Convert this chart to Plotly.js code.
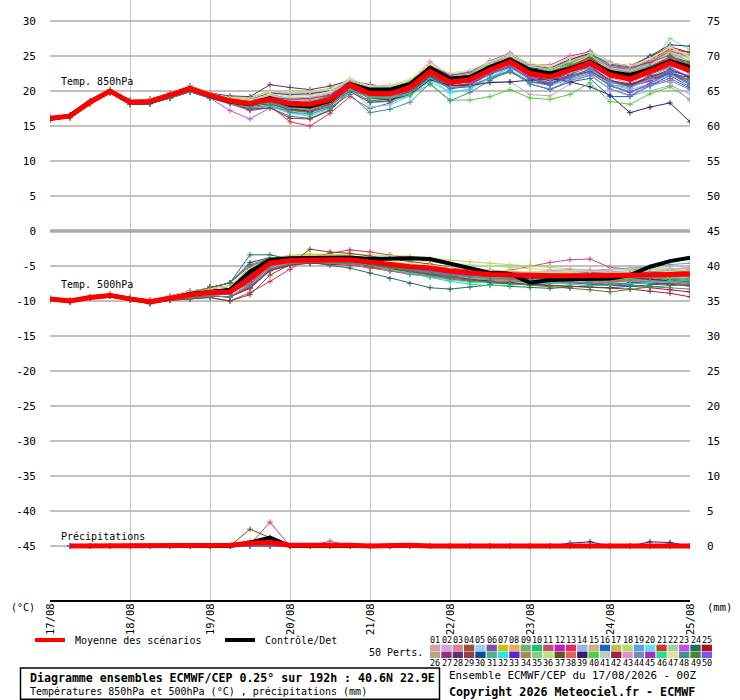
<!DOCTYPE html>
<html>
<head>
<meta charset="utf-8">
<script src="https://cdn.plot.ly/plotly-3.0.1.min.js"></script>
<style>
body { margin: 0; background: #fff; }
#chart { width: 740px; height: 700px; }
</style>
</head>
<body>
<div id="chart"></div>
<script>
// forecast steps (hours from 17/08 00Z) and day ticks
const steps = [0,6,12,18,24,30,36,42,48,54,60,66,72,78,84,90,96,102,108,114,120,126,132,138,144,150,156,162,168,174,180,186,192]
const dayTicks = [0,24,48,72,96,120,144,168,192]
const dayLabels = ['17/08','18/08','19/08','20/08','21/08','22/08','23/08','24/08','25/08']
const leftTicks = [-45,-40,-35,-30,-25,-20,-15,-10,-5,0,5,10,15,20,25,30]
const rightTicks = [0,5,10,15,20,25,30,35,40,45,50,55,60,65,70,75]

// mean / control
const t850Mean = [16.1,16.4,18.4,20.0,18.4,18.5,19.4,20.3,19.4,18.6,18.2,18.8,18.2,18.1,18.8,20.9,19.6,19.6,20.5,22.8,21.3,21.6,23.0,24.2,22.5,22.0,23.0,24.0,22.3,21.7,22.8,24.0,22.9]
const t850Ctrl = [16.0,16.5,18.5,20.0,18.4,18.4,19.4,20.4,19.3,18.5,18.1,19.0,18.0,17.8,18.6,21.0,20.2,20.2,21.0,23.3,21.8,22.0,23.4,24.5,23.0,22.5,23.2,24.2,22.7,22.3,23.1,24.3,23.4]
const t500Mean = [-9.7,-10.0,-9.5,-9.2,-9.7,-10.1,-9.6,-9.1,-8.8,-8.7,-6.7,-4.6,-4.2,-4.1,-4.1,-4.1,-4.5,-4.8,-5.1,-5.3,-5.7,-6.0,-6.2,-6.3,-6.4,-6.4,-6.4,-6.4,-6.4,-6.3,-6.3,-6.2,-6.1]
const t500Ctrl = [-9.7,-10.0,-9.5,-9.2,-9.7,-10.1,-9.6,-9.0,-8.7,-8.4,-5.8,-4.1,-3.9,-3.9,-3.9,-3.8,-4.0,-3.9,-3.9,-4.0,-4.6,-5.3,-6.0,-6.1,-7.4,-7.0,-6.9,-6.8,-6.8,-6.3,-5.1,-4.3,-3.8]
// precip (mm per 6h), from +6h
const precipMean = [0,0,0,0,0,0,0,0,0.1,0.4,0.5,0.1,0.1,0.2,0.1,0,0.1,0.1,0,0,0.1,0.1,0,0,0,0.1,0.1,0,0,0.1,0.1,0]
const precipCtrl = [0,0,0,0,0,0,0,0,0,0.5,1.2,0,0,0,0,0,0,0,0,0,0,0,0,0,0,0,0,0,0,0,0,0]

// first hours of the 850hPa members (they sit on top of each other)
const P1 = '16.3 16.6 18.6 20.2 18.6 18.7 19.6 20.5 19.6'
const P2 = '15.9 16.2 18.2 19.8 18.2 18.3 19.2 20.1 19.2'
const P3 = '16.1 16.4 18.4 20.0 18.4 18.5 19.4 20.3 19.4'
const P4 = '16.0 16.5 18.3 19.9 18.6 18.4 19.5 20.4 19.3'
const P5 = '16.2 16.3 18.5 20.1 18.3 18.6 19.3 20.2 19.5'
const P6 = '16.0 16.3 18.3 19.8 18.1 18.2 19.0 19.9 19.0'
const P7 = '16.1 16.5 18.5 20.1 18.7 18.8 19.7 20.7 19.7'

const t850Members = [
  P3 + ' 18.6 17.9 18.6 17.7 17.5 18.4 20.4 19.2 19.3 20.0 21.8 20.7 21.1 21.3 21.3 19.5 19.3 21.0 22.5 21.3 20.9 21.8 22.8 21.4',
  P1 + ' 18.9 18.6 19.3 18.8 18.8 19.3 21.2 20.1 20.2 21.0 23.2 21.9 22.3 23.5 24.6 23.3 22.9 23.7 24.8 23.5 23.1 24.1 25.5 24.7',
  P4 + ' 18.8 18.2 18.5 17.4 17.6 18.8 21.2 20.1 20.2 21.4 24.2 22.2 22.1 23.2 23.9 22.0 21.6 22.8 24.0 22.5 22.1 23.1 24.5 23.6',
  P5 + ' 18.4 17.8 18.3 17.5 17.2 18.2 20.5 19.0 18.9 20.0 22.4 21.0 21.4 23.0 24.4 22.8 22.5 23.4 24.3 22.3 21.4 22.3 23.6 22.7',
  P7 + ' 18.9 18.8 19.7 19.4 19.4 19.8 21.5 20.4 20.5 21.2 23.3 21.9 22.3 23.8 25.1 23.5 23.2 24.1 25.0 23.6 23.2 24.4 26.0 25.3',
  P6 + ' 18.2 17.2 17.6 16.4 16.1 17.3 20.1 18.6 18.8 19.9 22.3 20.6 21.0 22.6 23.9 22.0 21.2 22.0 23.1 20.8 19.9 20.8 21.8 20.4',
  P7 + ' 19.0 19.0 19.8 19.7 19.7 20.0 21.4 20.3 20.2 21.0 23.1 21.8 22.2 23.7 24.8 23.3 22.9 23.6 24.4 22.8 22.5 23.5 24.9 23.9',
  P1 + ' 18.6 18.4 19.2 18.5 18.6 19.4 21.3 19.8 19.9 21.0 23.5 21.8 22.0 23.3 24.7 23.1 22.7 23.9 25.1 23.7 22.9 23.8 24.8 24.1',
  P2 + ' 18.3 17.7 18.4 17.9 17.7 18.6 20.9 19.8 19.9 21.0 23.4 21.7 21.9 23.5 24.8 22.9 22.3 23.6 24.8 23.3 23.3 24.6 25.5 24.2',
  P6 + ' 18.7 18.0 18.2 17.2 16.9 18.0 20.4 18.9 18.7 19.5 21.6 20.5 21.0 22.3 23.7 21.9 21.1 21.7 22.5 20.9 20.5 21.8 22.6 21.2',
  P3 + ' 18.6 18.1 19.0 18.3 18.1 19.1 21.1 20.0 19.8 20.8 23.0 21.3 21.3 22.8 23.8 22.0 21.7 22.8 23.4 21.4 20.6 21.4 22.4 21.0',
  P7 + ' 18.8 18.7 19.6 18.8 19.0 19.5 21.3 20.2 20.1 21.2 23.6 22.2 22.3 24.0 25.3 23.4 23.1 24.4 25.5 23.9 23.0 24.3 25.7 24.9',
  P6 + ' 18.2 17.3 17.9 15.6 15.0 16.8 19.2 17.5 18.3 19.6 22.0 20.6 21.1 22.6 23.8 21.9 21.4 22.7 23.9 22.0 21.6 22.5 23.4 21.8',
  P4 + ' 18.6 18.4 18.8 18.0 18.0 19.0 20.9 19.4 19.2 20.2 22.3 20.6 20.7 22.4 23.4 21.5 20.8 21.6 22.4 20.2 19.3 20.0 20.8 19.6',
  P5 + ' 18.8 18.5 18.9 18.6 18.4 18.9 20.7 19.6 19.7 20.3 22.5 21.2 21.6 22.8 24.1 22.7 22.4 23.3 24.6 22.7 21.9 23.3 24.7 23.5',
  P2 + ' 18.5 17.9 18.6 18.2 18.3 18.7 20.6 19.1 19.2 19.9 22.0 20.3 20.7 21.9 22.9 21.0 20.2 21.3 21.8 19.2 19.2 20.8 22.2 20.6',
  P1 + ' 18.9 18.7 19.4 19.0 19.1 19.7 21.6 20.2 20.1 20.9 23.4 22.0 22.5 23.8 24.9 23.4 23.0 24.2 25.0 23.1 22.7 23.9 25.3 24.0',
  P7 + ' 19.1 19.1 20.0 19.7 19.9 20.4 21.7 20.6 20.8 21.5 23.7 22.4 22.8 24.0 25.0 23.6 23.3 24.0 25.2 23.7 23.3 24.3 25.8 25.0',
  P3 + ' 18.4 18.1 18.5 17.7 17.8 18.7 20.9 19.8 19.7 20.5 23.0 21.6 21.7 23.0 24.0 22.0 21.2 22.4 23.6 21.6 20.7 22.0 23.4 22.0',
  P6 + ' 18.3 17.5 17.9 16.9 16.6 17.8 20.3 17.7 18.0 19.3 21.9 19.7 20.2 22.0 23.5 21.6 20.9 22.2 23.5 21.4 20.4 21.8 22.8 21.3',
  P4 + ' 18.6 18.3 18.7 18.4 18.5 19.1 21.0 19.9 19.8 20.9 23.3 21.6 21.8 23.4 24.5 22.7 22.4 23.6 24.9 23.5 23.0 24.4 26.0 25.5',
  P1 + ' 18.8 18.6 19.1 18.7 18.7 19.2 21.1 19.9 20.1 20.9 23.1 21.8 22.0 23.6 24.9 23.4 23.2 24.6 25.8 24.2 23.0 23.7 27.5 25.9',
  P6 + ' 17.2 16.0 17.6 17.3 17.2 18.0 20.2 20.3 20.4 21.2 23.5 22.3 22.5 23.8 25.1 23.6 23.2 24.3 25.2 23.4 22.9 23.6 24.6 23.8',
  P5 + ' 18.4 17.8 18.2 17.4 17.4 18.3 20.6 19.0 18.8 19.6 22.1 20.5 20.6 21.8 22.7 21.3 21.0 22.3 23.7 22.5 22.1 23.4 24.3 23.0',
  P7 + ' 18.7 18.5 19.3 18.4 18.4 19.3 21.2 20.1 20.0 21.1 23.3 22.0 22.5 23.8 25.2 23.7 23.3 24.5 25.4 24.0 23.6 24.9 26.3 25.5',
  P3 + ' 18.5 18.2 19.1 18.7 18.4 18.9 20.9 19.4 19.3 20.4 22.8 21.1 21.2 22.7 23.7 21.8 21.4 22.6 23.8 21.9 21.1 22.5 23.9 22.5',
  P4 + ' 18.8 18.3 18.6 17.8 17.5 18.5 20.8 19.7 19.6 20.7 23.2 21.5 21.6 23.3 24.7 22.8 22.1 22.8 23.5 21.5 20.7 21.5 22.5 21.5',
  P7 + ' 19.3 19.2 20.9 20.5 20.2 20.7 21.5 20.9 20.6 21.2 23.4 22.0 22.0 23.2 24.3 22.4 21.8 22.6 23.3 21.4 20.8 21.9 23.1 22.0',
  P2 + ' 18.6 17.9 18.3 17.3 17.0 17.8 20.1 19.1 19.3 20.3 22.8 21.5 21.7 22.9 24.2 22.2 21.5 22.2 23.0 21.2 20.8 22.2 22.6 21.1',
  P5 + ' 18.5 18.4 19.2 18.5 18.2 19.2 21.1 19.9 20.1 20.9 23.4 22.1 22.3 23.9 25.2 23.3 23.1 24.0 25.3 23.8 23.4 25.0 26.6 26.4',
  P3 + ' 18.4 17.8 18.5 18.1 17.9 18.4 20.7 19.5 19.6 20.2 22.3 20.9 21.4 22.9 24.3 22.8 22.6 24.0 25.2 23.6 22.8 23.5 24.3 22.9',
  P6 + ' 18.3 17.6 17.8 16.8 16.4 17.5 20.0 18.3 18.5 19.3 21.4 19.8 20.3 21.9 23.3 21.8 21.1 21.8 23.0 21.0 20.2 21.0 22.4 21.0',
  P7 + ' 18.9 18.8 19.7 19.5 19.6 20.0 21.3 20.2 20.3 21.0 23.2 21.5 21.9 23.1 24.1 22.2 21.5 22.6 23.4 21.5 21.0 21.9 22.9 22.1',
  P1 + ' 18.6 18.0 18.7 17.8 17.5 18.5 20.8 19.7 19.8 20.5 22.6 21.3 21.8 23.1 24.1 22.5 22.2 23.3 24.5 23.0 22.3 23.2 24.2 23.4',
  P4 + ' 18.8 18.5 19.3 18.9 18.6 19.1 21.3 20.2 20.4 21.1 23.3 22.0 22.4 24.0 25.4 23.6 22.9 24.2 25.1 23.2 22.9 24.2 25.6 24.2',
  P7 + ' 19.0 18.9 19.9 19.8 19.9 20.2 21.5 20.5 20.6 21.3 23.4 22.1 22.6 24.1 25.1 23.7 23.4 24.7 25.6 23.7 23.3 24.6 26.2 24.8',
  P6 + ' 18.3 17.4 17.6 16.1 16.0 17.2 19.9 18.4 18.6 19.7 22.2 20.9 21.4 23.0 24.4 22.9 22.3 23.5 24.7 22.8 22.0 23.4 24.9 24.1',
  P5 + ' 18.7 18.1 18.4 17.6 17.2 18.1 20.5 19.0 19.1 20.2 22.7 21.4 21.9 23.2 24.2 22.6 22.3 23.5 24.8 23.3 22.6 24.1 25.7 25.1',
  P2 + ' 18.5 17.9 18.6 17.8 17.8 18.6 20.5 19.0 18.8 19.5 21.6 20.8 20.8 21.2 21.3 21.5 21.8 21.3 20.6 19.4 16.9 17.7 18.3 15.6',
  P3 + ' 18.4 18.0 18.5 17.9 17.8 18.4 20.4 19.0 19.0 19.5 20.9 18.7 18.7 19.2 20.2 19.0 18.8 19.5 21.2 18.5 18.1 19.6 20.6 18.8',
  P1 + ' 18.8 18.6 19.4 18.7 18.8 19.7 21.6 20.5 20.7 21.3 23.4 22.1 22.3 23.9 25.0 23.5 23.1 24.3 25.1 23.3 22.9 23.8 25.5 24.6',
  P6 + ' 18.5 17.9 18.2 17.4 17.1 18.1 20.4 19.2 19.4 20.1 22.2 20.8 20.9 22.5 23.6 21.7 21.0 22.1 22.8 21.3 20.9 21.7 22.5 21.9',
  P4 + ' 18.7 18.4 18.8 18.0 17.7 18.6 20.9 19.8 20.0 20.8 23.3 21.7 21.8 23.0 24.5 22.6 21.8 22.6 23.3 21.3 20.4 21.7 21.2 18.6',
  P2 + ' 18.4 17.7 18.5 17.6 17.3 17.9 20.2 19.1 19.0 19.7 21.8 20.5 20.7 21.9 22.9 21.0 20.3 21.5 22.2 20.3 19.4 20.7 21.5 20.2',
  P7 + ' 18.8 18.7 19.1 18.8 18.9 19.4 21.2 20.1 20.0 21.1 23.6 22.2 22.7 24.3 25.4 23.8 23.7 25.0 25.6 23.7 23.3 24.1 25.1 23.7',
  P5 + ' 18.6 18.0 18.3 17.5 17.6 18.5 20.7 19.2 19.3 20.4 22.9 21.2 21.3 22.9 24.2 22.3 21.6 22.8 24.0 22.5 22.2 23.1 24.0 22.4',
  P7 + ' 18.9 18.7 19.6 19.2 19.3 19.9 21.8 20.7 20.9 21.7 23.8 22.6 23.0 24.2 25.3 23.9 23.6 24.8 25.5 24.0 23.6 24.6 26.3 24.9',
  P6 + ' 18.2 17.6 18.0 17.0 16.7 17.6 19.5 16.9 17.4 18.4 21.1 18.6 19.8 21.5 23.0 21.3 20.8 22.0 23.2 21.4 20.6 21.8 22.9 21.5',
  P3 + ' 18.5 18.0 18.4 17.6 17.7 18.6 20.9 19.8 19.7 20.8 23.0 21.3 21.8 23.4 24.5 23.0 22.7 23.6 24.8 22.8 22.0 23.4 24.9 23.6',
  P4 + ' 18.7 18.2 18.5 17.7 17.8 18.8 21.1 19.6 19.4 20.4 22.9 21.1 21.2 22.4 23.4 21.9 21.1 21.9 22.7 20.7 19.8 21.1 22.6 20.9'
]

// first hours of the 500hPa members
const Q1 = '-9.7 -10.0 -9.5 -9.2 -9.7 -10.1 -9.6 -9.1 -8.8 -8.7'
const Q2 = '-9.6 -9.9 -9.4 -9.0 -9.5 -9.9 -9.3 -8.6 -8.2 -7.9'
const Q3 = '-9.8 -10.1 -9.6 -9.3 -9.8 -10.3 -9.8 -9.5 -9.3 -9.4'
const Q4 = '-9.7 -10.0 -9.4 -9.1 -9.6 -9.9 -9.4 -8.9 -8.5 -8.3'
const Q5 = '-9.6 -10.0 -9.6 -9.3 -9.7 -10.2 -9.7 -9.3 -9.1 -9.0'
const Q6 = '-9.8 -10.0 -9.5 -9.2 -9.6 -10.0 -9.5 -8.8 -8.0 -7.4'
const Q7 = '-9.7 -9.9 -9.5 -9.2 -9.8 -10.4 -9.9 -9.7 -9.5 -10.0'

const t500Members = [
  Q1 + ' -6.5 -4.4 -4.0 -3.9 -4.0 -4.2 -4.8 -5.2 -5.6 -5.8 -6.3 -6.5 -6.6 -6.8 -6.9 -7.0 -6.8 -6.6 -6.7 -6.5 -6.4 -6.6 -6.8',
  Q4 + ' -6.0 -4.2 -3.9 -3.8 -3.7 -3.9 -4.1 -4.4 -4.7 -4.9 -5.2 -5.6 -5.9 -6.1 -6.0 -5.8 -5.9 -6.1 -6.2 -5.9 -5.6 -5.4 -5.2',
  Q2 + ' -5.2 -4.0 -3.6 -3.7 -3.9 -4.0 -4.6 -5.0 -5.5 -5.9 -6.4 -6.9 -7.1 -7.0 -6.8 -6.6 -6.5 -6.7 -6.9 -7.1 -7.3 -7.0 -6.8',
  Q5 + ' -7.4 -5.0 -4.4 -4.3 -4.2 -4.0 -4.3 -4.5 -4.8 -5.0 -5.4 -5.8 -6.0 -6.2 -6.5 -6.7 -6.9 -7.0 -7.2 -7.0 -6.8 -7.1 -7.4',
  Q1 + ' -6.8 -4.5 -4.1 -4.0 -4.2 -4.4 -4.6 -4.7 -4.9 -5.1 -5.5 -5.9 -6.1 -6.0 -5.8 -5.7 -5.9 -6.0 -5.8 -5.6 -5.5 -5.7 -5.9',
  Q3 + ' -8.0 -5.5 -4.6 -4.4 -4.3 -4.5 -5.0 -5.4 -5.9 -6.3 -6.8 -7.0 -7.2 -7.3 -7.1 -6.9 -7.0 -7.2 -7.4 -7.1 -6.9 -7.2 -7.5',
  Q2 + ' -5.6 -3.9 -3.5 -3.3 -3.4 -3.6 -3.9 -4.3 -4.8 -5.2 -5.6 -5.9 -6.0 -5.8 -5.9 -6.1 -6.3 -6.2 -6.0 -5.8 -5.9 -6.1 -5.8',
  Q4 + ' -6.3 -4.3 -4.0 -3.9 -4.1 -4.3 -4.7 -5.1 -5.3 -5.6 -5.9 -6.1 -6.4 -6.6 -6.5 -6.3 -6.2 -6.4 -6.6 -6.8 -6.6 -6.3 -6.5',
  Q5 + ' -7.0 -4.8 -4.3 -4.2 -4.4 -4.6 -5.1 -5.6 -6.0 -6.4 -6.9 -7.2 -7.4 -7.5 -7.3 -7.1 -7.3 -7.6 -7.8 -7.5 -7.3 -7.6 -7.9',
  Q1 + ' -6.6 -4.6 -4.2 -4.0 -3.9 -4.0 -4.4 -4.6 -4.9 -5.0 -5.3 -5.5 -5.6 -5.8 -6.0 -6.2 -6.1 -5.9 -6.0 -6.2 -6.4 -6.3 -6.1',
  Q6 + ' -4.8 -3.9 -3.7 -3.6 -3.8 -4.0 -4.3 -4.7 -5.0 -5.2 -5.5 -5.7 -5.8 -5.6 -5.0 -4.5 -4.1 -4.0 -5.2 -5.5 -5.7 -5.9 -6.2',
  Q3 + ' -7.6 -5.2 -4.5 -4.3 -4.5 -4.7 -5.2 -5.7 -6.2 -6.5 -6.9 -7.1 -7.0 -6.8 -6.6 -6.5 -6.7 -6.9 -6.8 -6.6 -6.7 -6.9 -7.1',
  Q7 + ' -8.8 -7.2 -5.5 -3.7 -3.2 -2.7 -3.0 -3.4 -3.9 -4.3 -4.8 -5.3 -5.6 -5.8 -6.0 -6.2 -6.1 -6.3 -6.5 -6.4 -6.2 -6.0 -5.8',
  Q1 + ' -6.4 -4.4 -4.1 -4.1 -4.3 -4.5 -4.9 -5.3 -5.7 -6.0 -6.4 -6.7 -6.9 -7.0 -7.1 -7.2 -7.0 -6.8 -6.9 -7.1 -7.3 -7.5 -7.7',
  Q4 + ' -6.1 -4.1 -3.8 -3.9 -4.0 -4.2 -4.5 -4.9 -5.2 -5.5 -5.9 -6.3 -6.5 -6.7 -6.9 -6.8 -6.6 -6.4 -6.5 -6.7 -6.9 -6.6 -6.4',
  Q2 + ' -5.5 -4.2 -3.9 -3.8 -4.0 -4.3 -4.8 -5.3 -5.8 -6.3 -6.8 -7.2 -7.4 -7.6 -7.7 -7.5 -7.4 -7.6 -7.8 -7.6 -7.3 -7.1 -7.3',
  Q5 + ' -7.2 -4.9 -4.3 -4.1 -4.0 -4.1 -4.4 -4.7 -5.0 -5.3 -5.6 -5.8 -6.0 -6.1 -6.0 -5.9 -6.1 -6.3 -6.2 -6.0 -5.9 -6.2 -6.5',
  Q2 + ' -5.8 -4.0 -3.6 -3.5 -3.4 -3.3 -3.4 -3.5 -3.6 -3.9 -4.2 -4.4 -4.6 -4.8 -5.0 -5.2 -5.4 -5.6 -5.5 -5.4 -5.2 -5.3 -5.5',
  Q1 + ' -6.7 -4.5 -4.2 -4.2 -4.3 -4.2 -4.6 -5.0 -5.4 -5.7 -6.1 -6.4 -6.6 -6.5 -6.3 -6.2 -6.0 -5.7 -5.5 -5.3 -5.1 -4.8 -4.6',
  Q3 + ' -7.8 -5.3 -4.6 -4.5 -4.6 -4.8 -5.0 -5.3 -5.6 -5.9 -6.2 -6.5 -6.7 -6.9 -7.0 -6.9 -6.7 -6.6 -6.8 -7.0 -6.9 -6.7 -6.9',
  Q4 + ' -6.2 -4.3 -4.0 -3.9 -3.8 -3.9 -4.2 -4.5 -4.9 -5.2 -5.7 -6.0 -6.3 -6.4 -6.2 -6.1 -6.3 -6.5 -6.4 -6.2 -6.0 -5.8 -5.6',
  Q5 + ' -7.1 -4.8 -4.2 -4.0 -4.1 -4.3 -4.8 -5.2 -5.6 -5.9 -6.3 -6.6 -6.8 -6.9 -6.7 -6.5 -6.6 -6.8 -6.9 -6.7 -6.5 -6.3 -6.4',
  Q1 + ' -6.6 -4.6 -4.3 -4.2 -4.1 -4.2 -4.7 -5.1 -5.5 -5.8 -6.2 -6.5 -6.7 -6.8 -6.6 -6.4 -6.5 -6.7 -6.9 -7.0 -6.8 -6.6 -6.8',
  Q6 + ' -3.4 -3.4 -4.0 -4.5 -4.9 -5.3 -6.0 -6.8 -7.5 -8.1 -8.3 -8.0 -7.7 -7.9 -8.1 -8.2 -8.0 -7.8 -7.6 -7.4 -7.2 -7.0 -7.2',
  Q3 + ' -8.2 -5.6 -4.8 -4.6 -4.7 -4.9 -5.2 -5.4 -5.7 -5.9 -6.2 -6.4 -6.5 -6.6 -6.8 -7.0 -7.2 -7.4 -7.6 -7.9 -8.1 -8.4 -8.7',
  Q4 + ' -6.4 -4.4 -4.1 -4.0 -4.2 -4.4 -4.8 -5.1 -5.4 -5.6 -5.9 -6.1 -6.2 -6.3 -6.4 -6.5 -6.6 -6.5 -6.3 -6.2 -6.4 -6.6 -6.4',
  Q2 + ' -5.9 -4.1 -3.8 -3.7 -3.8 -3.9 -4.2 -4.6 -5.0 -5.3 -5.7 -6.0 -6.2 -6.4 -6.6 -6.7 -6.9 -7.1 -7.0 -6.8 -6.6 -6.8 -7.0',
  Q5 + ' -7.3 -4.9 -4.3 -4.1 -4.0 -4.2 -4.5 -4.8 -5.3 -5.8 -6.4 -6.9 -7.2 -7.3 -7.1 -6.9 -6.8 -6.9 -7.1 -7.3 -7.4 -7.6 -7.8',
  Q1 + ' -6.9 -4.7 -4.3 -4.2 -4.2 -4.3 -4.5 -4.7 -4.9 -5.1 -5.4 -5.6 -5.8 -5.9 -6.0 -6.1 -6.0 -5.9 -6.1 -6.3 -6.5 -6.4 -6.2',
  Q6 + ' -4.5 -3.8 -3.7 -3.8 -3.9 -4.1 -4.6 -5.1 -5.6 -6.0 -6.5 -6.9 -7.2 -7.4 -7.6 -7.8 -7.9 -8.0 -8.1 -7.9 -7.7 -7.5 -7.3',
  Q3 + ' -7.9 -5.4 -4.6 -4.3 -4.2 -4.3 -4.6 -4.9 -5.2 -5.4 -5.8 -6.1 -6.3 -6.5 -6.6 -6.7 -6.6 -6.4 -6.3 -6.1 -5.9 -5.7 -5.8',
  Q4 + ' -6.0 -4.2 -3.9 -4.0 -4.2 -4.5 -5.0 -5.5 -6.0 -6.5 -7.0 -7.3 -7.4 -7.2 -7.0 -6.8 -6.9 -7.1 -7.3 -7.2 -7.0 -7.2 -7.4',
  Q2 + ' -5.7 -4.1 -3.8 -3.8 -4.0 -4.2 -4.6 -5.0 -5.4 -5.7 -6.1 -6.4 -6.5 -6.4 -6.3 -6.5 -6.7 -6.6 -6.4 -6.2 -6.3 -6.5 -6.3',
  Q5 + ' -7.5 -5.0 -4.5 -4.4 -4.4 -4.5 -4.9 -5.3 -5.8 -6.1 -6.5 -6.8 -7.0 -7.1 -7.2 -7.3 -7.4 -7.3 -7.1 -6.9 -7.0 -7.2 -7.4',
  Q1 + ' -6.5 -4.5 -4.1 -4.0 -4.1 -4.3 -4.6 -4.9 -5.2 -5.4 -5.7 -6.0 -6.1 -6.2 -6.3 -6.4 -6.3 -6.1 -6.0 -6.1 -6.3 -6.5 -6.7',
  Q2 + ' -5.3 -3.9 -3.6 -3.5 -3.5 -3.6 -3.8 -4.0 -4.2 -4.4 -4.7 -4.9 -5.1 -5.3 -5.4 -5.5 -5.7 -5.8 -5.6 -5.4 -5.3 -5.5 -5.7',
  Q7 + ' -9.1 -6.3 -4.8 -2.6 -3.0 -3.2 -3.6 -4.0 -4.4 -4.7 -5.1 -5.5 -5.7 -5.9 -6.1 -6.3 -6.5 -6.4 -6.2 -6.0 -5.9 -6.1 -6.3',
  Q3 + ' -7.7 -5.1 -4.5 -4.4 -4.6 -4.8 -5.3 -5.7 -6.1 -6.4 -6.8 -7.1 -7.3 -7.2 -7.0 -7.1 -7.3 -7.5 -7.3 -7.1 -7.2 -7.4 -7.6',
  Q4 + ' -6.2 -4.4 -4.1 -4.0 -4.1 -4.2 -4.6 -4.9 -5.3 -5.6 -6.0 -6.3 -6.5 -6.6 -6.7 -6.8 -6.6 -6.4 -6.5 -6.7 -6.9 -7.1 -6.9',
  Q1 + ' -6.8 -4.6 -4.2 -4.1 -4.2 -4.4 -4.8 -5.2 -5.6 -5.9 -6.3 -6.5 -6.7 -6.6 -6.5 -6.6 -6.8 -7.0 -6.9 -6.7 -6.6 -6.8 -7.0',
  Q5 + ' -7.0 -4.8 -4.4 -4.3 -4.3 -4.4 -4.7 -5.0 -5.3 -5.5 -5.8 -6.0 -6.1 -6.2 -6.3 -6.2 -6.0 -5.8 -5.9 -6.0 -6.2 -6.0 -5.9',
  Q3 + ' -8.1 -5.7 -4.9 -4.6 -4.5 -4.6 -5.0 -5.4 -5.8 -6.2 -6.6 -7.0 -7.3 -7.5 -7.7 -7.8 -7.9 -8.0 -8.1 -8.3 -8.6 -8.9 -9.4',
  Q2 + ' -5.6 -4.0 -3.7 -3.7 -3.8 -4.0 -4.3 -4.6 -4.9 -5.1 -5.4 -5.7 -5.9 -6.0 -5.9 -5.7 -5.5 -5.6 -5.8 -5.9 -5.7 -5.5 -5.3',
  Q4 + ' -6.3 -4.4 -4.1 -4.1 -4.2 -4.4 -4.8 -5.2 -5.5 -5.8 -6.2 -6.5 -6.6 -6.5 -6.4 -6.3 -6.4 -6.6 -6.7 -6.5 -6.3 -6.1 -6.0',
  Q5 + ' -7.2 -4.9 -4.4 -4.2 -4.1 -4.1 -4.4 -4.8 -5.2 -5.5 -5.9 -6.2 -6.4 -6.5 -6.6 -6.7 -6.8 -6.6 -6.4 -6.2 -6.1 -6.3 -6.5',
  Q1 + ' -6.6 -4.5 -4.2 -4.1 -4.2 -4.3 -4.9 -5.5 -6.1 -6.6 -7.2 -7.6 -7.8 -7.7 -7.5 -7.4 -7.6 -7.8 -7.7 -7.5 -7.3 -7.1 -7.0',
  Q2 + ' -5.4 -3.9 -3.6 -3.6 -3.7 -3.8 -4.1 -4.4 -4.7 -4.9 -5.2 -5.4 -5.6 -5.7 -5.8 -5.9 -6.0 -6.1 -6.0 -5.8 -5.6 -5.8 -6.0',
  Q3 + ' -7.9 -5.4 -4.7 -4.5 -4.5 -4.6 -4.9 -5.2 -5.6 -5.9 -6.3 -6.6 -6.8 -6.9 -7.0 -7.1 -7.2 -7.4 -7.6 -7.8 -7.9 -8.1 -8.3',
  Q6 + ' -5.0 -4.0 -3.8 -3.9 -4.1 -4.3 -4.8 -5.2 -5.7 -6.1 -6.6 -7.0 -7.3 -7.5 -7.8 -8.0 -8.2 -8.4 -8.7 -8.3 -8.0 -7.8 -7.6',
  Q1 + ' -6.4 -4.4 -4.0 -3.9 -4.0 -4.2 -4.6 -5.0 -5.4 -5.7 -6.1 -6.3 -6.4 -6.3 -6.2 -6.4 -6.6 -6.5 -6.3 -6.1 -6.0 -6.2 -6.4'
]

// precipitation per member (mm / 6h, from +6h); most members stay dry
const dry = '0 0 0 0 0 0 0 0 0 0 0 0 0 0 0 0 0 0 0 0 0 0 0 0 0 0 0 0 0 0 0 0'
const precipMembers = [
  dry, dry, dry, dry, dry, dry,
  '0 0 0 0 0 0 0 0 0 0.8 0.3 0 0 0 0 0 0 0 0 0 0 0 0 0 0 0 0 0 0 0 0 0',
  dry, dry, dry,
  '0 0 0 0 0 0 0 0 0 0 0 0 0 0.7 0 0 0 0 0 0 0 0 0 0 0 0 0 0 0 0 0 0',
  '0 0 0 0 0 0 0 0 0 0.1 0.6 0 0 0 0 0 0 0 0 0 0 0 0 0 0 0 0 0 0 0 0 0',
  '0 0 0 0 0 0 0 0 0 0.2 3.4 0 0 0 0 0 0 0 0 0 0 0 0 0 0 0 0 0 0 0 0 0',
  dry, dry, dry, dry, dry, dry,
  '0 0 0 0 0 0 0 0 0 0 0 0 0 0.4 0 0 0 0 0 0 0 0 0 0 0 0 0 0 0 0 0 0',
  dry, dry,
  '0 0 0 0 0 0 0 0 0 0.3 0.1 0 0 0 0 0 0 0 0 0 0 0 0 0 0 0 0 0 0 0 0 0',
  dry, dry, dry, dry,
  '0 0 0 0 0 0 0 0 0 0 0 0 0 0 0 0 0 0 0 0 0 0 0 0 0 0 0 0 0 0 0.3 0',
  dry, dry, dry, dry, dry, dry, dry, dry,
  '0 0 0 0 0 0 0 0 0 2.4 1.2 0 0 0 0 0 0 0 0 0 0 0 0 0 0 0 0 0 0 0 0 0',
  dry,
  '0 0 0 0 0 0 0 0 0 0 0 0 0 0 0 0 0 0 0 0 0 0 0 0 0 0.4 0.6 0 0 0.6 0.5 0',
  dry, dry, dry, dry,
  '0 0 0 0 0 0 0 0 0 0 0 0 0 0.3 0 0 0 0 0 0 0 0 0 0 0 0 0 0 0 0 0 0',
  '0 0 0 0 0 0 0 0 0 0.2 0.4 0 0 0 0 0 0 0 0 0 0 0 0 0 0 0 0 0 0 0 0 0',
  dry, dry, dry, dry, dry
]

// member colours, same as the legend squares 01..50
const palette = ['#d4a0a8','#d4a0e0','#e08088','#a05030','#a0d0f0','#8050b0','#c0c020','#e0b050','#70b070','#20c070',
  '#c05080','#c020c0','#e03060','#a0b0e0','#d0b080','#2060c0','#c0c060','#b0e060','#60a0e0','#60e0f0',
  '#c04020','#a0d0a0','#c050e0','#207060','#b01020','#c0a080','#903080','#603080','#904050','#105090',
  '#50b090','#30e0e0','#6020d0','#a09050','#80d080','#c0e080','#705020','#e06060','#302070','#50d040',
  '#b0d0c0','#a02040','#e090d0','#7090b0','#a030c0','#20e090','#e0e0a0','#409090','#508030','#8050f0']

const vals = s => s.trim().split(/\s+/).map(Number)
const FONT = 'DejaVu Sans Mono, monospace'

let traces = []

function member(y, c, axis, x) {
    return {
        x: x, y: y, yaxis: axis, type: 'scatter', mode: 'lines+markers',
        line: { color: c, width: 1 },
        marker: { symbol: 'cross-thin', size: 4, color: c, line: { color: c, width: 1 } },
        hoverinfo: 'skip'
    }
}

for (let k = 0; k < 50; k++) {
    traces.push(member(vals(t850Members[k]), palette[k], 'y', steps))
    traces.push(member(vals(t500Members[k]), palette[k], 'y', steps))
}
for (let k = 0; k < 50; k++)
    traces.push(member(vals(precipMembers[k]), palette[k], 'y2', steps.slice(1)))

function thick(y, c, w, axis, x) {
    return { x: x, y: y, yaxis: axis, type: 'scatter', mode: 'lines', line: { color: c, width: w }, hoverinfo: 'skip' }
}

traces.push(thick(t850Ctrl, '#000', 4, 'y', steps))
traces.push(thick(t500Ctrl, '#000', 4, 'y', steps))
traces.push(thick(t850Mean, '#ff0000', 5, 'y', steps))
traces.push(thick(t500Mean, '#ff0000', 5, 'y', steps))
traces.push(thick(precipCtrl, '#000', 4, 'y2', steps.slice(1)))
traces.push(thick(precipMean, '#ff0000', 5, 'y2', steps.slice(1)))

// pixel -> paper helpers (plot area is 50..690 x 0..600)
const px = v => (v - 50) / 640
const py = v => (600 - v) / 600

let shapes = [
    { type: 'line', xref: 'paper', yref: 'y', x0: 0, x1: 1, y0: 0.15, y1: 0.15, line: { color: '#8c8c8c', width: 1 } },
    { type: 'line', xref: 'paper', yref: 'y', x0: 0, x1: 1, y0: -0.15, y1: -0.15, line: { color: '#8c8c8c', width: 1 } },
    { type: 'line', xref: 'paper', yref: 'paper', x0: px(35), x1: px(65), y0: py(640), y1: py(640), line: { color: '#ff0000', width: 4 } },
    { type: 'line', xref: 'paper', yref: 'paper', x0: px(225), x1: px(255), y0: py(640), y1: py(640), line: { color: '#000', width: 4 } },
    { type: 'rect', xref: 'paper', yref: 'paper', x0: px(20.5), x1: px(439.5), y0: py(668), y1: py(699.3), line: { color: '#000', width: 1.5 } }
]

function label(text, x, y, size, anchor) {
    return { text: text, xref: 'paper', yref: 'paper', x: px(x), y: py(y), xanchor: anchor || 'left', yanchor: 'middle',
             showarrow: false, font: { family: FONT, size: size, color: '#000000' } }
}

let annotations = [
    { text: 'Temp. 850hPa', xref: 'paper', yref: 'y', x: px(59), y: 21.4, xanchor: 'left', yanchor: 'middle', showarrow: false, font: { size: 10, color: '#000' } },
    { text: 'Temp. 500hPa', xref: 'paper', yref: 'y', x: px(59), y: -7.7, xanchor: 'left', yanchor: 'middle', showarrow: false, font: { size: 10, color: '#000' } },
    { text: 'Précipitations', xref: 'paper', yref: 'y', x: px(59), y: -43.7, xanchor: 'left', yanchor: 'middle', showarrow: false, font: { size: 10, color: '#000' } },
    label('(°C)', 23, 607, 10, 'center'),
    label('(mm)', 719, 607, 10.5, 'center'),
    label('Moyenne des scénarios', 73, 640, 10),
    label('Contrôle/Det', 263, 640, 10),
    label('50 Perts.', 425, 652, 10, 'right'),
    label('<b>Diagramme ensembles ECMWF/CEP 0.25° sur 192h : 40.6N 22.9E</b>', 28, 677.5, 11.6),
    label('Températures 850hPa et 500hPa (°C) , précipitations (mm)', 28, 691.5, 10),
    label('Ensemble ECMWF/CEP du 17/08/2026 - 00Z', 447, 675.5, 10.8),
    label('<b>Copyright 2026 Meteociel.fr - ECMWF</b>', 447, 692, 11.7)
]

// date labels under the axis, reading upwards
for (let k = 0; k < dayTicks.length; k++) {
    annotations.push({ text: dayLabels[k], xref: 'x', yref: 'paper', x: dayTicks[k], y: py(619), xanchor: 'center', yanchor: 'middle',
                       textangle: -90, showarrow: false, font: { family: FONT, size: 10.5, color: '#000000' } })
}

// 50 colour squares with their numbers
for (let k = 0; k < 25; k++) {
    let x0 = 430 + k * 11.32
    shapes.push({ type: 'rect', xref: 'paper', yref: 'paper', x0: px(x0), x1: px(x0 + 10.3), y0: py(644.7), y1: py(651.2), fillcolor: palette[k], line: { width: 0 } })
    shapes.push({ type: 'rect', xref: 'paper', yref: 'paper', x0: px(x0), x1: px(x0 + 10.3), y0: py(651.6), y1: py(658), fillcolor: palette[k + 25], line: { width: 0 } })
    annotations.push(label(String(k + 1).padStart(2, '0'), x0 + 5.2, 639.5, 8.5, 'center'))
    annotations.push(label(String(k + 26), x0 + 5.2, 663, 8.5, 'center'))
}

let layout = {
    width: 740,
    height: 700,
    margin: { l: 50, r: 50, t: 0, b: 100, pad: 0 },
    paper_bgcolor: '#fff',
    plot_bgcolor: '#fff',
    font: { family: FONT, size: 11, color: '#000' },
    showlegend: false,
    hovermode: false,
    xaxis: {
        range: [0, 192], tickvals: dayTicks, showticklabels: false,
        showgrid: true, gridcolor: '#c0c0c0', gridwidth: 1, zeroline: false,
        showline: true, linecolor: '#000', linewidth: 2, ticks: ''
    },
    yaxis: {
        range: [-52.714, 33], tickvals: leftTicks, ticktext: leftTicks.map(String),
        showgrid: true, gridcolor: '#c0c0c0', gridwidth: 1.5, zeroline: false, showline: false,
        ticks: '', ticklabelstandoff: 13, tickfont: { size: 11 }
    },
    yaxis2: {
        overlaying: 'y', side: 'right', range: [-7.714, 78], tickvals: rightTicks,
        showgrid: false, zeroline: false, showline: false, ticks: '', ticklabelstandoff: 16,
        tickfont: { size: 11 }
    },
    shapes: shapes,
    annotations: annotations
}

Plotly.newPlot('chart', traces, layout, { staticPlot: true, displayModeBar: false })
</script>
</body>
</html>
